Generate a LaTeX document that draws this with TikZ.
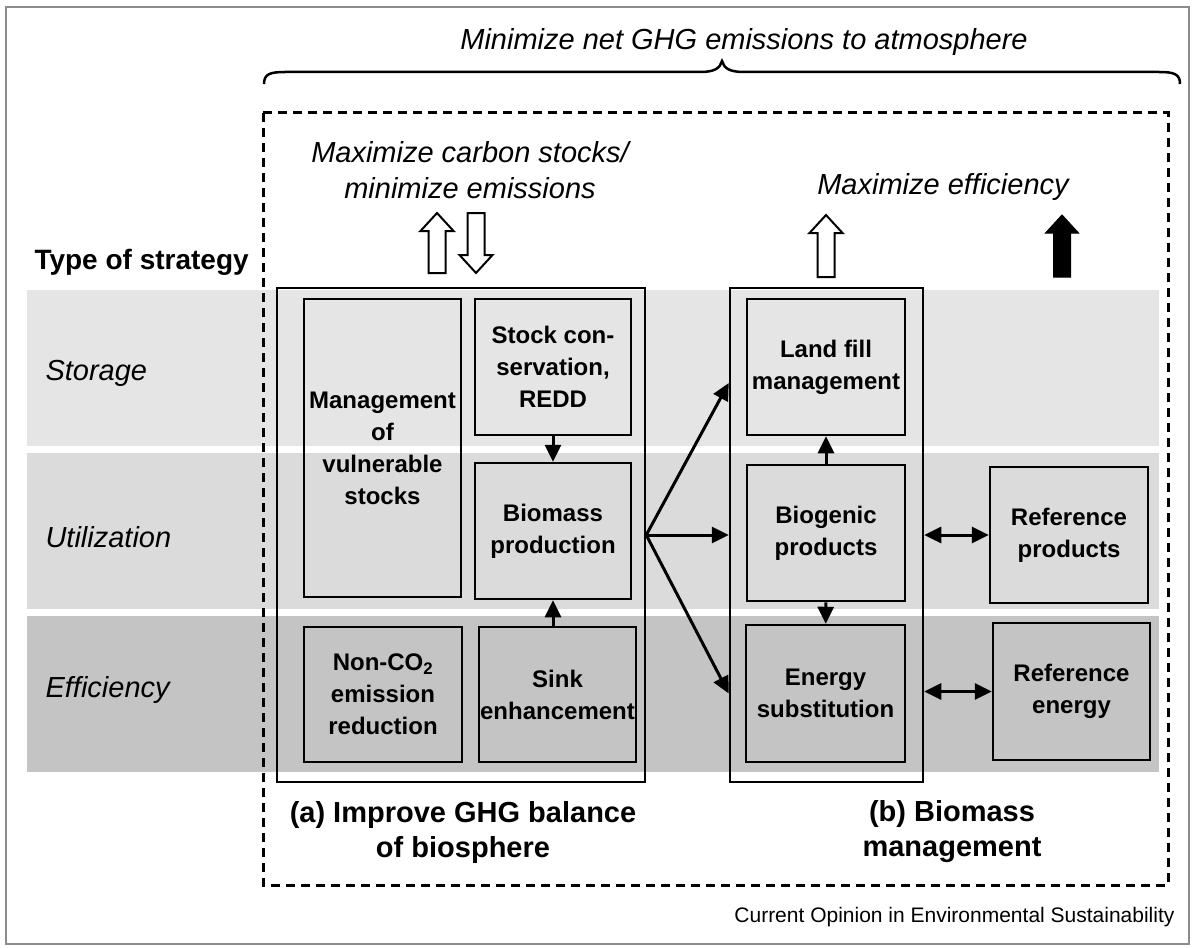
\documentclass[tikz,border=0pt]{standalone}
\usepackage{fontspec}
\setmainfont{Liberation Sans}
\usepackage{xcolor}
\usepackage{tikz}
\usetikzlibrary{arrows.meta,positioning}

\definecolor{storagegray}{gray}{0.90}
\definecolor{utilgray}{gray}{0.86}
\definecolor{effgray}{gray}{0.77}

\newcommand{\boxfont}{\fontsize{24}{32}\selectfont\bfseries}
\newcommand{\itfont}{\fontsize{29}{36}\selectfont\itshape}
\newcommand{\grpfont}{\fontsize{29}{35}\selectfont\bfseries}

% block arrow: style, x, base y, tip y
\newcommand{\fatarrow}[4]{%
    \draw[#1] (#2-8.5,#3) -- (#2-8.5,{#4+18*sign(#3-#4)}) -- (#2-16.5,{#4+18*sign(#3-#4)})
        -- (#2,#4) -- (#2+16.5,{#4+18*sign(#3-#4)}) -- (#2+8.5,{#4+18*sign(#3-#4)})
        -- (#2+8.5,#3) -- cycle;}

\begin{document}
\begin{tikzpicture}[
        x=1pt, y=-1pt,
        box/.style={draw, line width=2.5pt, align=center, font=\boxfont, inner sep=0pt},
        group/.style={draw, line width=2.5pt, inner sep=0pt},
        flow/.style={-{Triangle[length=17pt,width=16pt]}, line width=3pt},
        both/.style={{Triangle[length=17pt,width=16pt]}-{Triangle[length=17pt,width=16pt]}, line width=3pt},
        rowlabel/.style={anchor=west, font=\itfont},
        hollow/.style={draw, fill=white, line width=2pt},
        filled/.style={draw, fill=black, line width=1pt}
    ]
    \useasboundingbox (0,0) rectangle (1193,947);

    % frame
    \draw[black!45, line width=2pt] (6,7) rectangle (1189,944);

    % bands
    \fill[storagegray] (27,290) rectangle (1159,446);
    \fill[utilgray] (27,453) rectangle (1159,609);
    \fill[effgray] (27,616) rectangle (1159,772);

    % outer dashed frame and brace
    \draw[line width=3pt, dash pattern=on 9pt off 6pt] (263,113) rectangle (1168,885);
    \draw[line width=2.5pt]
        (264,84) .. controls (264,74) and (270,72) .. (285,72) -- (700,72)
        .. controls (715,72) and (720,68) .. (722,61)
        .. controls (724,68) and (729,72) .. (744,72) -- (1159,72)
        .. controls (1174,72) and (1180,74) .. (1180,84);

    \node[font=\itfont] (goal) at (744,42) {Minimize net GHG emissions to atmosphere};
    \node[font=\itfont, align=center] (goala) at (470,170) {Maximize carbon stocks/\\minimize emissions};
    \node[font=\itfont] (goalb) at (943,187) {Maximize efficiency};

    \fatarrow{hollow}{437}{273}{213}
    \fatarrow{hollow}{476}{213}{273}
    \fatarrow{hollow}{826}{277}{215}
    \fatarrow{filled}{1062}{277}{215}

    % row labels
    \node[anchor=west, font=\fontsize{28}{34}\selectfont\bfseries] (type) at (31,262) {Type of strategy};
    \node[rowlabel] (storage) at (42,373) {Storage};
    \node[rowlabel] (util) at (42,537) {Utilization};
    \node[rowlabel] (eff) at (42,690) {Efficiency};

    % groups
    \node[group, minimum width=368, minimum height=494] (grpa) at (461,535) {};
    \node[group, minimum width=193, minimum height=494] (grpb) at (826.5,535) {};

    % (a) boxes
    \node[box, minimum width=157, minimum height=298] (mgmt) at (382.5,448) {Management\\of\\vulnerable\\stocks};
    \node[box, minimum width=156, minimum height=136] (stock) at (553,367) {Stock con-\\servation,\\REDD};
    \node[box, minimum width=156, minimum height=136] (biomass) at (553,531) {Biomass\\production};
    \node[box, minimum width=158, minimum height=135] (nonco) at (383,694.5) {Non-CO\textsubscript{2}\\emission\\reduction};
    \node[box, minimum width=157, minimum height=135] (sink) at (557.5,694.5) {Sink\\enhancement};

    % (b) boxes
    \node[box, minimum width=158, minimum height=136] (landfill) at (826,367) {Land fill\\management};
    \node[box, minimum width=158, minimum height=136] (biogenic) at (826,533) {Biogenic\\products};
    \node[box, minimum width=159, minimum height=137] (energy) at (825.5,693.5) {Energy\\substitution};
    \node[box, minimum width=158, minimum height=136] (refprod) at (1069,535) {Reference\\products};
    \node[box, minimum width=157, minimum height=137] (refenergy) at (1071.5,691.5) {Reference\\energy};

    % connectors
    \draw[flow] (stock) -- (biomass);
    \draw[flow] (sink.north -| biomass.south) -- (biomass.south);
    \draw[flow] (grpa.east) -- (grpb.west |- 0,383);
    \draw[flow] (grpa.east) -- (grpb.west);
    \draw[flow] (grpa.east) -- (grpb.west |- energy);
    \draw[flow] (biogenic) -- (landfill);
    \draw[flow] (biogenic) -- (energy);
    \draw[both] (grpb.east |- refprod) -- (refprod.west);
    \draw[both] (grpb.east |- refenergy) -- (refenergy.west);

    % group labels
    \node[font=\grpfont, align=center] (labela) at (463,832) {(a) Improve GHG balance\\of biosphere};
    \node[font=\grpfont, align=center] (labelb) at (952,832) {(b) Biomass\\management};

    \node[anchor=east, font=\fontsize{21}{25}\selectfont] (credit) at (1178,917) {Current Opinion in Environmental Sustainability};
\end{tikzpicture}
\end{document}
